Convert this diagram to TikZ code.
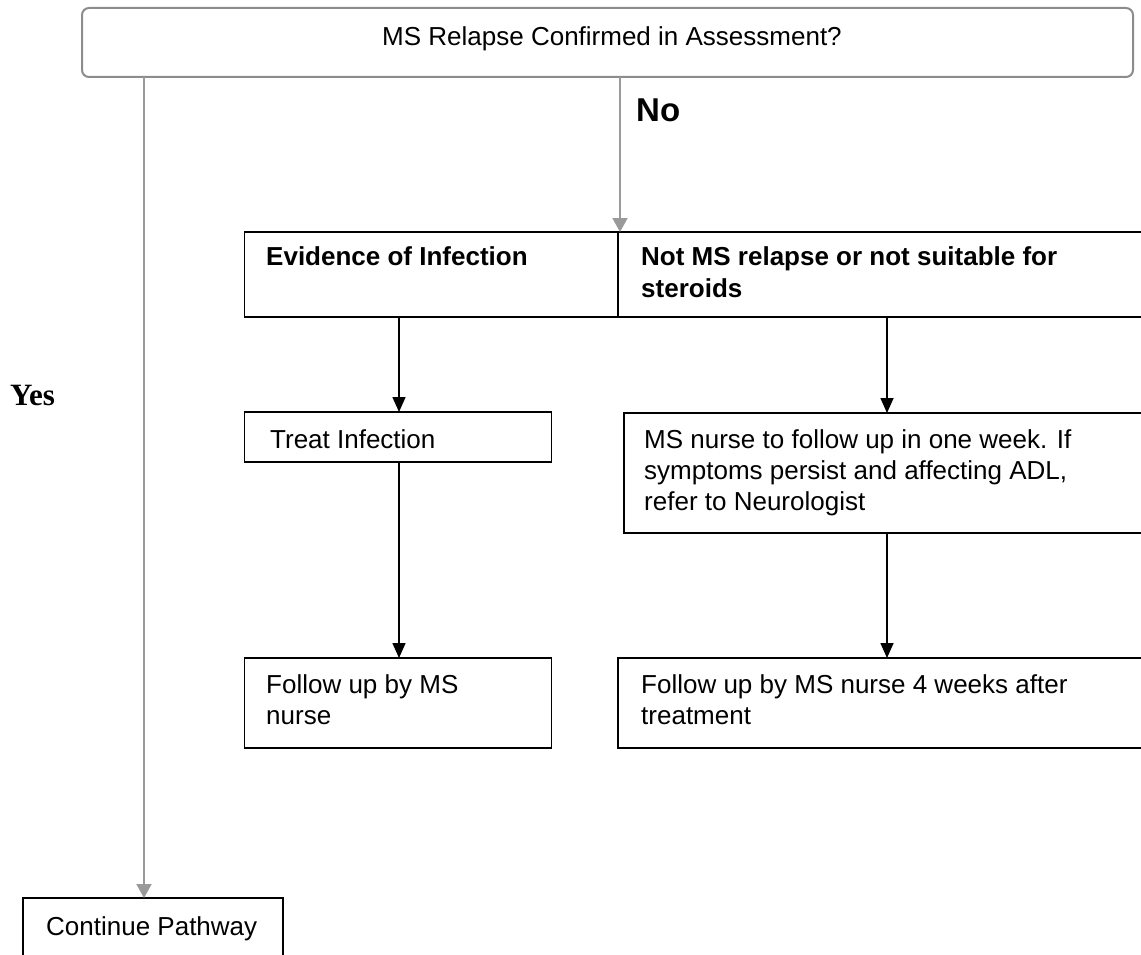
\documentclass[tikz,border=0pt]{standalone}
\usepackage{fontspec}
\setmainfont{Liberation Sans}
\newfontfamily\serifb{Liberation Serif}
\usetikzlibrary{arrows.meta}
\definecolor{lgray}{HTML}{9A9A9A}
\definecolor{bgray}{HTML}{8C8C8C}
\begin{document}
\begin{tikzpicture}[x=1pt,y=-1pt,
  box/.style={draw=black,line width=1.8pt,anchor=north west,inner sep=0pt,outer sep=0pt},
  topbox/.style={draw=bgray,line width=2pt,rounded corners=7pt,anchor=north west,inner sep=0pt,outer sep=0pt},
  txt/.style={anchor=base west,inner sep=0pt,font=\fontsize{26}{31}\selectfont},
  btxt/.style={txt,font=\fontsize{26}{31}\selectfont\bfseries},
  garrow/.style={draw=lgray,line width=2pt,-{Triangle[width=15pt,length=14pt]},lgray},
  karrow/.style={draw=black,line width=1.6pt,-{Triangle[width=13pt,length=15pt]}}
]
\useasboundingbox (0,0) rectangle (1141,955);
\clip (0,0) rectangle (1141,955);
% boxes
\node[topbox,minimum width=1051pt,minimum height=69pt] (top) at (82,8) {};
\node[box,minimum width=373.5pt,minimum height=85pt] (ev) at (244.5,232) {};
\node[box,minimum width=540pt,minimum height=85pt] (nm) at (618,232) {};
\node[box,minimum width=307pt,minimum height=50pt] (treat) at (244.5,412) {};
\node[box,minimum width=530pt,minimum height=120pt] (rb) at (624,413) {};
\node[box,minimum width=307pt,minimum height=90pt] (fl) at (244.5,658) {};
\node[box,minimum width=540pt,minimum height=90pt] (fr) at (618,658) {};
\node[box,minimum width=260pt,minimum height=70pt] (cont) at (23,898) {};
% texts
\node[txt,anchor=base] (ttitle) at (612,46) {MS Relapse Confirmed in Assessment?};
\node[anchor=base west,inner sep=0pt,font=\fontsize{33}{40}\selectfont\bfseries] (tno) at (636,122) {No};
\node[anchor=base west,inner sep=0pt,font=\fontsize{31}{36}\serifb\bfseries] (tyes) at (10,405) {Yes};
\node[btxt] (tev) at (266,265) {Evidence of Infection};
\node[btxt] (tnm1) at (641,265) {Not MS relapse or not suitable for};
\node[btxt] (tnm2) at (641,297) {steroids};
\node[txt] (ttreat) at (270,448) {Treat Infection};
\node[txt] (trb1) at (644,448) {MS nurse to follow up in one week. If};
\node[txt] (trb2) at (644,479) {symptoms persist and affecting ADL,};
\node[txt] (trb3) at (644,510) {refer to Neurologist};
\node[txt] (tfl1) at (266,693) {Follow up by MS};
\node[txt] (tfl2) at (266,724) {nurse};
\node[txt] (tfr1) at (641,693) {Follow up by MS nurse 4 weeks after};
\node[txt] (tfr2) at (641,724) {treatment};
\node[txt] (tcont) at (46,935) {Continue Pathway};
% connector columns
\coordinate (ys) at (144,0);
\coordinate (ns) at (620,0);
\coordinate (cl) at (399,0);
\coordinate (cr) at (887,0);
% connectors
\draw[garrow] (ys |- top.south) -- (ys |- cont.north);
\draw[garrow] (ns |- top.south) -- (ns |- ev.north);
\draw[karrow] (cl |- ev.south) -- (cl |- treat.north);
\draw[karrow] (cl |- treat.south) -- (cl |- fl.north);
\draw[karrow] (cr |- nm.south) -- (cr |- rb.north);
\draw[karrow] (cr |- rb.south) -- (cr |- fr.north);
\end{tikzpicture}
\end{document}
